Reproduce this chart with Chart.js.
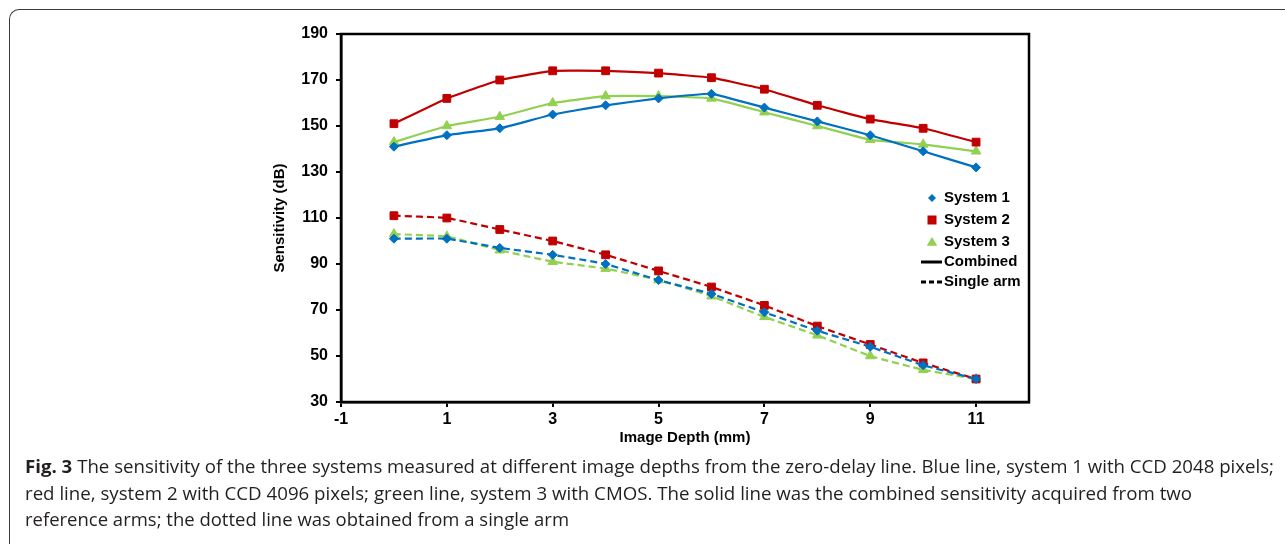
<!DOCTYPE html>
<html>
<head>
<meta charset="utf-8">
<script src="https://cdn.jsdelivr.net/npm/chart.js@4.4.1/dist/chart.umd.min.js"></script>
<style>
html,body{margin:0;padding:0;background:#fff;width:1285px;height:544px;overflow:hidden;}
#frame{position:absolute;left:9px;top:9px;width:1300px;height:560px;border-top:1.5px solid #3a3a3a;border-left:1.5px solid #3a3a3a;border-top-left-radius:10px;}
#wrap{position:absolute;left:0;top:0;width:1285px;height:460px;}
.cap{position:absolute;left:25px;font-family:'Open Sans',sans-serif;font-size:18px;line-height:27px;color:#231f20;white-space:nowrap;transform-origin:0 0;}
</style>
</head>
<body>
<div id="frame"></div>
<div id="wrap"><canvas id="c"></canvas></div>
<div class="cap" id="l1" data-w="1249" style="top:453px"><b>Fig. 3</b> The sensitivity of the three systems measured at different image depths from the zero-delay line. Blue line, system 1 with CCD 2048 pixels;</div>
<div class="cap" id="l2" data-w="1167" style="top:480px">red line, system 2 with CCD 4096 pixels; green line, system 3 with CMOS. The solid line was the combined sensitivity acquired from two</div>
<div class="cap" id="l3" data-w="544" style="top:506px">reference arms; the dotted line was obtained from a single arm</div>
<script>
// ---- data ----
const depths = [0, 1, 2, 3, 4, 5, 6, 7, 8, 9, 10, 11];
const sys1Combined = [141, 146, 149, 155, 159, 162, 164, 158, 152, 146, 139, 132];
const sys2Combined = [151, 162, 170, 174, 174, 173, 171, 166, 159, 153, 149, 143];
const sys3Combined = [143, 150, 154, 160, 163, 163, 162, 156, 150, 144, 142, 139];
const sys1Single = [101, 101, 97, 94, 90, 83, 77, 69, 61, 54, 46, 40];
const sys2Single = [111, 110, 105, 100, 94, 87, 80, 72, 63, 55, 47, 40];
const sys3Single = [103, 102, 96, 91, 88, 83, 76, 67, 59, 50, 44, 40];
const xTickValues = [-1, 1, 3, 5, 7, 9, 11];
const yTickValues = [30, 50, 70, 90, 110, 130, 150, 170, 190];
const xTitle = 'Image Depth (mm)';
const yTitle = 'Sensitivity (dB)';
const legendLabels = ['System 1', 'System 2', 'System 3', 'Combined', 'Single arm'];

const BLUE = '#0070C0', RED = '#C00000', GREEN = '#92D050';
const pts = v => depths.map((d, i) => ({x: d, y: v[i]}));

function ds(label, values, color, style, radius, dashed) {
  return {
    label: label, data: pts(values), borderColor: color, backgroundColor: color,
    borderWidth: 2.2, borderDash: dashed ? [7, 4] : [], pointStyle: style,
    pointRadius: radius, pointBorderWidth: 1, pointBorderColor: color,
    pointBackgroundColor: color, tension: 0.1, fill: false
  };
}

function drawMarker(ctx, style, x, y, r, color) {
  ctx.save();
  ctx.fillStyle = color;
  ctx.beginPath();
  if (style === 'rect') {
    ctx.rect(x - r, y - r, 2 * r, 2 * r);
  } else if (style === 'rectRot') {
    ctx.moveTo(x, y - r); ctx.lineTo(x + r, y); ctx.lineTo(x, y + r); ctx.lineTo(x - r, y);
    ctx.closePath();
  } else {
    ctx.moveTo(x, y - r); ctx.lineTo(x + r * 1.05, y + r * 0.75); ctx.lineTo(x - r * 1.05, y + r * 0.75);
    ctx.closePath();
  }
  ctx.fill();
  ctx.restore();
}

const boxPlugin = {
  id: 'box',
  afterDatasetsDraw(chart) {
    const a = chart.chartArea, ctx = chart.ctx;
    ctx.save();
    ctx.strokeStyle = '#000';
    ctx.lineWidth = 2.5;
    ctx.strokeRect(a.left, a.top, a.right - a.left, a.bottom - a.top);
    ctx.restore();
  }
};

const legendPlugin = {
  id: 'customLegend',
  afterDraw(chart) {
    const ctx = chart.ctx;
    const mx = 932, tx = 944;
    const ys = [198, 220, 241.5, 262, 282];
    ctx.save();
    drawMarker(ctx, 'rectRot', mx, ys[0], 4, BLUE);
    drawMarker(ctx, 'rect', mx, ys[1], 4.5, RED);
    drawMarker(ctx, 'triangle', mx, ys[2] + 0.5, 5, GREEN);
    ctx.strokeStyle = '#000';
    ctx.lineWidth = 3;
    ctx.beginPath(); ctx.moveTo(921, ys[3]); ctx.lineTo(942, ys[3]); ctx.stroke();
    ctx.setLineDash([5, 3]);
    ctx.beginPath(); ctx.moveTo(921, ys[4]); ctx.lineTo(942, ys[4]); ctx.stroke();
    ctx.setLineDash([]);
    ctx.fillStyle = '#000';
    ctx.font = 'bold 15px "Liberation Sans", Arial, sans-serif';
    ctx.textBaseline = 'middle';
    ctx.textAlign = 'left';
    legendLabels.forEach((t, i) => ctx.fillText(t, tx, ys[i]));
    ctx.restore();
  }
};

const axisFont = {family: '"Liberation Sans", Arial, sans-serif', size: 16, weight: 'bold'};
const titleFont = {family: '"Liberation Sans", Arial, sans-serif', size: 15, weight: 'bold'};

new Chart(document.getElementById('c'), {
  type: 'line',
  data: {
    datasets: [
      ds('System 1', sys1Combined, BLUE, 'rectRot', 4.5, false),
      ds('System 2', sys2Combined, RED, 'rect', 5.5, false),
      ds('System 3', sys3Combined, GREEN, 'triangle', 5.5, false),
      ds('System 1 single', sys1Single, BLUE, 'rectRot', 4.5, true),
      ds('System 2 single', sys2Single, RED, 'rect', 5.5, true),
      ds('System 3 single', sys3Single, GREEN, 'triangle', 5.5, true)
    ]
  },
  options: {
    responsive: true, maintainAspectRatio: false, animation: false,
    layout: {padding: {left: 271, right: 256, top: 34, bottom: 10}},
    plugins: {legend: {display: false}, tooltip: {enabled: false}},
    scales: {
      x: {
        type: 'linear', min: -1, max: 12,
        afterBuildTicks: s => { s.ticks = xTickValues.map(v => ({value: v})); },
        afterFit: s => { s.height = 48; },
        ticks: {color: '#000', font: axisFont, padding: 3, maxRotation: 0,
          callback: v => String(v)},
        grid: {display: true, drawOnChartArea: false, drawTicks: true, tickLength: 5, color: '#000', lineWidth: 2},
        border: {display: true, color: '#000', width: 2.5},
        title: {display: true, text: xTitle, color: '#000', font: titleFont, padding: {top: 0, bottom: 3}}
      },
      y: {
        type: 'linear', min: 30, max: 190,
        afterBuildTicks: s => { s.ticks = yTickValues.map(v => ({value: v})); },
        afterFit: s => { s.width = 70; },
        ticks: {color: '#000', font: axisFont, padding: 8},
        grid: {display: true, drawOnChartArea: false, drawTicks: true, tickLength: 5, color: '#000', lineWidth: 2},
        border: {display: true, color: '#000', width: 2.5},
        title: {display: true, text: yTitle, color: '#000', font: titleFont, padding: {top: 0, bottom: 0}}
      }
    }
  },
  plugins: [boxPlugin, legendPlugin]
});

function fitCaptions() {
  document.querySelectorAll('.cap').forEach(el => {
    el.style.transform = 'none';
    const w = el.getBoundingClientRect().width;
    const target = parseFloat(el.dataset.w);
    el.style.transform = 'scaleX(' + (target / w) + ')';
  });
}
fitCaptions();
if (document.fonts && document.fonts.ready) document.fonts.ready.then(fitCaptions);
</script>
</body>
</html>
